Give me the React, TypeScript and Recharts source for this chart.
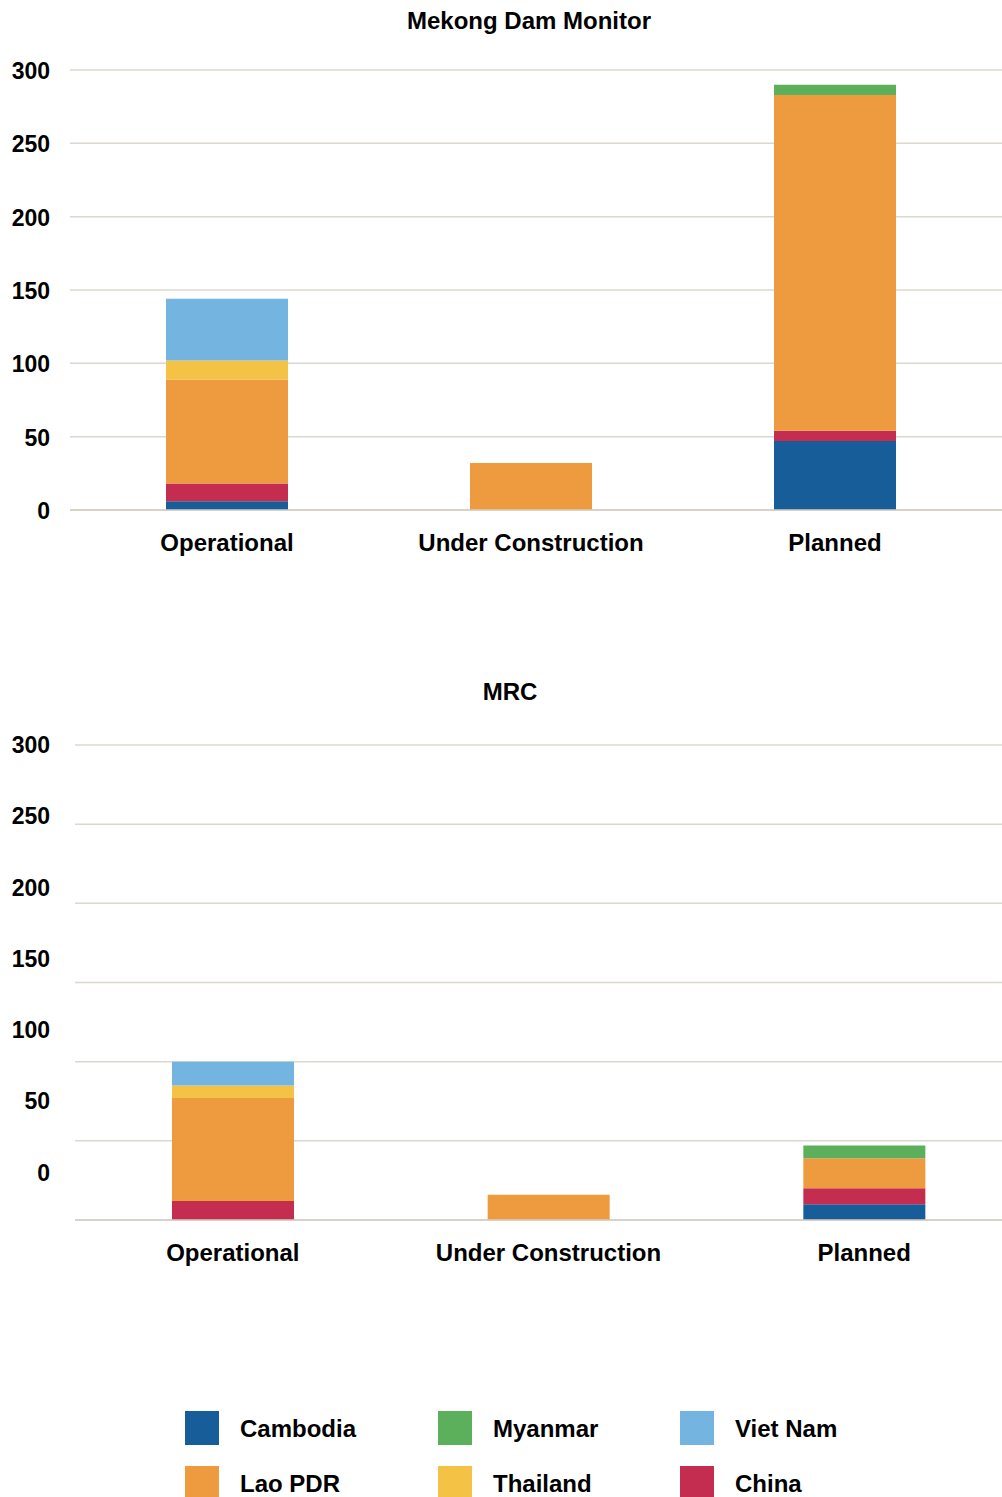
import React from "react";
import { BarChart, Bar, XAxis, YAxis, CartesianGrid } from "recharts";

const categories = ["Operational", "Under Construction", "Planned"];
const yTicks = [0, 50, 100, 150, 200, 250, 300];

// Mekong Dam Monitor
const mdmCambodia = [6, 0, 47];
const mdmChina = [12, 0, 7];
const mdmLao = [71, 32, 229];
const mdmThailand = [13, 0, 0];
const mdmMyanmar = [0, 0, 7];
const mdmVietNam = [42, 0, 0];

// MRC
const mrcCambodia = [0, 0, 10];
const mrcChina = [12, 0, 10];
const mrcLao = [65, 16, 19];
const mrcThailand = [8, 0, 0];
const mrcMyanmar = [0, 0, 8];
const mrcVietNam = [15, 0, 0];

const seriesNames = ["Cambodia", "China", "Lao PDR", "Thailand", "Myanmar", "Viet Nam"];
const seriesColors = ["#175d99", "#c42d50", "#ee9a3f", "#f4c244", "#5db05b", "#74b4e0"];
const legendOrder = ["Cambodia", "Myanmar", "Viet Nam", "Lao PDR", "Thailand", "China"];

const FONT = '"Liberation Sans", Arial, sans-serif';

function buildRows(series: number[][]) {
  return categories.map((c, i) => {
    const row: any = { category: c };
    seriesNames.forEach((n, k) => {
      row[n] = series[k][i];
    });
    return row;
  });
}

const mdmData = buildRows([mdmCambodia, mdmChina, mdmLao, mdmThailand, mdmMyanmar, mdmVietNam]);
const mrcData = buildRows([mrcCambodia, mrcChina, mrcLao, mrcThailand, mrcMyanmar, mrcVietNam]);

const yTextStyle = { fontFamily: FONT, fontWeight: 700, fontSize: 23, fill: "#000" };
const xTextStyle = { fontFamily: FONT, fontWeight: 700, fontSize: 24, fill: "#000" };

const YTick1 = (props: any) => {
  const { x, y, payload } = props;
  return (
    <text x={x} y={y + 1} textAnchor="end" dominantBaseline="central" style={yTextStyle}>
      {payload.value}
    </text>
  );
};

const YTick2 = (props: any) => {
  const { x, y, payload } = props;
  const top = 70;
  const yy = top + (y - top) * 0.9;
  return (
    <text x={x} y={yy} textAnchor="end" dominantBaseline="central" style={yTextStyle}>
      {payload.value}
    </text>
  );
};

const XTick = (props: any) => {
  const { x, y, payload } = props;
  return (
    <text x={x} y={y + 32} textAnchor="middle" dominantBaseline="central" style={xTextStyle}>
      {payload.value}
    </text>
  );
};

function Chart(props: {
  data: any[];
  width: number;
  height: number;
  yWidth: number;
  tickMargin: number;
  padding: { left: number; right: number };
  yTick: any;
}) {
  const { data, width, height, yWidth, tickMargin, padding, yTick } = props;
  return (
    <BarChart width={width} height={height} data={data} margin={{ top: 70, right: 0, bottom: 0, left: 0 }}>
      <CartesianGrid vertical={false} stroke="#dcd8cf" strokeWidth={1.5} />
      <XAxis
        dataKey="category"
        interval={0}
        tickLine={false}
        axisLine={{ stroke: "#d6ccc1", strokeWidth: 1.5 }}
        tickSize={0}
        tickMargin={0}
        height={60}
        padding={padding}
        tick={<XTick />}
      />
      <YAxis
        domain={[0, 300]}
        ticks={yTicks}
        width={yWidth}
        tickLine={false}
        axisLine={false}
        tickSize={0}
        tickMargin={tickMargin}
        tick={yTick}
      />
      {seriesNames.map((n, k) => (
        <Bar key={n} dataKey={n} stackId="a" fill={seriesColors[k]} barSize={122} isAnimationActive={false} />
      ))}
    </BarChart>
  );
}

const titleStyle: React.CSSProperties = {
  position: "absolute",
  width: 400,
  textAlign: "center",
  fontSize: 24,
  lineHeight: "24px",
  fontWeight: 700,
  color: "#000",
};

export default function App() {
  return (
    <div
      style={{
        position: "absolute",
        left: 0,
        top: 0,
        width: 1002,
        height: 1497,
        overflow: "hidden",
        background: "#fff",
        fontFamily: FONT,
      }}
    >
      <div style={{ ...titleStyle, left: 329, top: 9 }}>Mekong Dam Monitor</div>
      <div style={{ position: "absolute", left: 0, top: 0 }}>
        <Chart
          data={mdmData}
          width={1002}
          height={570}
          yWidth={70}
          tickMargin={20}
          padding={{ left: 5, right: 15 }}
          yTick={<YTick1 />}
        />
      </div>
      <div style={{ ...titleStyle, left: 310, top: 680 }}>MRC</div>
      <div style={{ position: "absolute", left: 0, top: 675 }}>
        <Chart
          data={mrcData}
          width={1030}
          height={605}
          yWidth={75}
          tickMargin={25}
          padding={{ left: 0, right: 8 }}
          yTick={<YTick2 />}
        />
      </div>
      {legendOrder.map((name, i) => {
        const col = i % 3;
        const row = Math.floor(i / 3);
        const colX = [185, 438, 680][col];
        const rowY = [1411, 1466][row];
        const color = seriesColors[seriesNames.indexOf(name)];
        return (
          <React.Fragment key={name}>
            <div
              style={{
                position: "absolute",
                left: colX,
                top: rowY,
                width: 34,
                height: 34,
                background: color,
              }}
            />
            <div
              style={{
                position: "absolute",
                left: colX + 55,
                top: rowY + 6,
                fontSize: 24,
                lineHeight: "24px",
                fontWeight: 700,
                color: "#000",
                whiteSpace: "nowrap",
              }}
            >
              {name}
            </div>
          </React.Fragment>
        );
      })}
    </div>
  );
}
